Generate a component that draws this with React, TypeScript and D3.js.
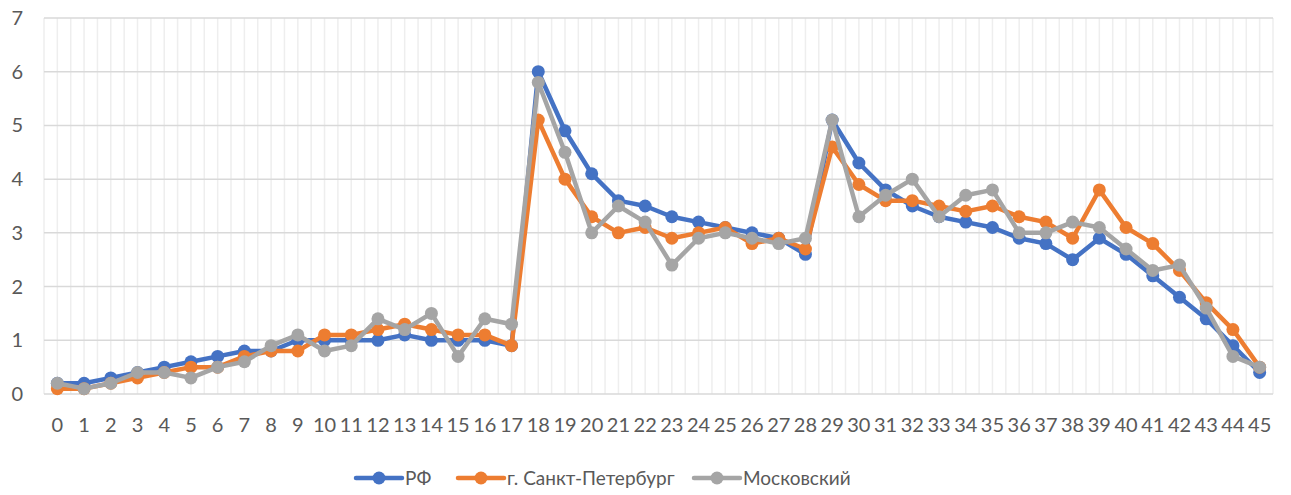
import * as d3 from 'd3';
import { useEffect, useRef } from 'react';

const categories = d3.range(0, 46).map(String);

const rf = [0.2, 0.2, 0.3, 0.4, 0.5, 0.6, 0.7, 0.8, 0.8, 1.0, 1.0, 1.0, 1.0, 1.1, 1.0, 1.0, 1.0, 0.9,
  6.0, 4.9, 4.1, 3.6, 3.5, 3.3, 3.2, 3.1, 3.0, 2.9, 2.6,
  5.1, 4.3, 3.8, 3.5, 3.3, 3.2, 3.1, 2.9, 2.8, 2.5, 2.9, 2.6, 2.2, 1.8, 1.4, 0.9, 0.4];
const spb = [0.1, 0.1, 0.2, 0.3, 0.4, 0.5, 0.5, 0.7, 0.8, 0.8, 1.1, 1.1, 1.2, 1.3, 1.2, 1.1, 1.1, 0.9,
  5.1, 4.0, 3.3, 3.0, 3.1, 2.9, 3.0, 3.1, 2.8, 2.9, 2.7,
  4.6, 3.9, 3.6, 3.6, 3.5, 3.4, 3.5, 3.3, 3.2, 2.9, 3.8, 3.1, 2.8, 2.3, 1.7, 1.2, 0.5];
const msk = [0.2, 0.1, 0.2, 0.4, 0.4, 0.3, 0.5, 0.6, 0.9, 1.1, 0.8, 0.9, 1.4, 1.2, 1.5, 0.7, 1.4, 1.3,
  5.8, 4.5, 3.0, 3.5, 3.2, 2.4, 2.9, 3.0, 2.9, 2.8, 2.9,
  5.1, 3.3, 3.7, 4.0, 3.3, 3.7, 3.8, 3.0, 3.0, 3.2, 3.1, 2.7, 2.3, 2.4, 1.6, 0.7, 0.5];

const seriesNames = ['РФ', 'г. Санкт-Петербург', 'Московский'];
const seriesColors = ['#4472C4', '#ED7D31', '#A5A5A5'];
const yTicks = [0, 1, 2, 3, 4, 5, 6, 7];

const App = () => {
  const ref = useRef(null);

  useEffect(() => {
    const svg = d3.select(ref.current);
    svg.selectAll('*').remove();
    const width = 1291, height = 495;
    const left = 44, right = 1273, top = 18, bottom = 394;
    const font = 'Lato, "Open Sans", "Noto Sans", sans-serif';

    const x = d3.scaleBand().domain(categories).range([left, right]).padding(0);
    const y = d3.scaleLinear().domain([0, 7]).range([bottom, top]);
    const cx = (c: string) => (x(c) as number) + x.bandwidth() / 2;

    svg.append('rect').attr('width', width).attr('height', height).attr('fill', '#fff');

    // vertical gridlines at band edges and centres
    const vx: number[] = [];
    categories.forEach((c) => {
      vx.push(x(c) as number);
      vx.push(cx(c));
    });
    vx.push(right);
    svg.append('g').selectAll('line').data(vx).enter().append('line')
      .attr('x1', (d) => d).attr('x2', (d) => d)
      .attr('y1', top).attr('y2', bottom)
      .attr('stroke', '#eeeeee').attr('stroke-width', 1.5);

    // horizontal gridlines
    svg.append('g').selectAll('line').data(yTicks).enter().append('line')
      .attr('x1', left).attr('x2', right)
      .attr('y1', (d) => y(d)).attr('y2', (d) => y(d))
      .attr('stroke', '#d9d9d9').attr('stroke-width', 1.5);

    // y labels
    svg.append('g').selectAll('text').data(yTicks).enter().append('text')
      .attr('x', 23).attr('y', (d) => y(d) + 7)
      .attr('text-anchor', 'end')
      .attr('font-family', font).attr('font-size', 20).attr('fill', '#595959')
      .text((d) => d);

    // x labels
    svg.append('g').selectAll('text').data(categories).enter().append('text')
      .attr('x', (d) => cx(d)).attr('y', 432)
      .attr('text-anchor', 'middle')
      .attr('font-family', font).attr('font-size', 20).attr('fill', '#595959')
      .text((d) => d);

    const allSeries = [rf, spb, msk];
    const line = d3.line<number>().x((d, i) => cx(categories[i])).y((d) => y(d));

    allSeries.forEach((s, k) => {
      const g = svg.append('g');
      g.append('path').datum(s).attr('d', line)
        .attr('fill', 'none').attr('stroke', seriesColors[k])
        .attr('stroke-width', 4.5).attr('stroke-linejoin', 'round').attr('stroke-linecap', 'round');
      g.selectAll('circle').data(s).enter().append('circle')
        .attr('cx', (d, i) => cx(categories[i])).attr('cy', (d) => y(d))
        .attr('r', 6.5).attr('fill', seriesColors[k]);
    });

    // legend
    const legendX = [356, 458, 694];
    const legendY = 478;
    seriesNames.forEach((name, k) => {
      const g = svg.append('g').attr('transform', 'translate(' + legendX[k] + ',' + legendY + ')');
      g.append('line').attr('x1', 0).attr('x2', 46).attr('y1', 0).attr('y2', 0)
        .attr('stroke', seriesColors[k]).attr('stroke-width', 4.5).attr('stroke-linecap', 'round');
      g.append('circle').attr('cx', 23).attr('cy', 0).attr('r', 6.5).attr('fill', seriesColors[k]);
      g.append('text').attr('x', 49).attr('y', 7)
        .attr('font-family', font).attr('font-size', 19).attr('fill', '#595959')
        .text(name);
    });
  }, []);

  return (
    <div style={{ position: 'absolute', left: 0, top: 0 }}>
      <svg ref={ref} width={1291} height={495} style={{ display: 'block' }}></svg>
    </div>
  );
};

export default App;
